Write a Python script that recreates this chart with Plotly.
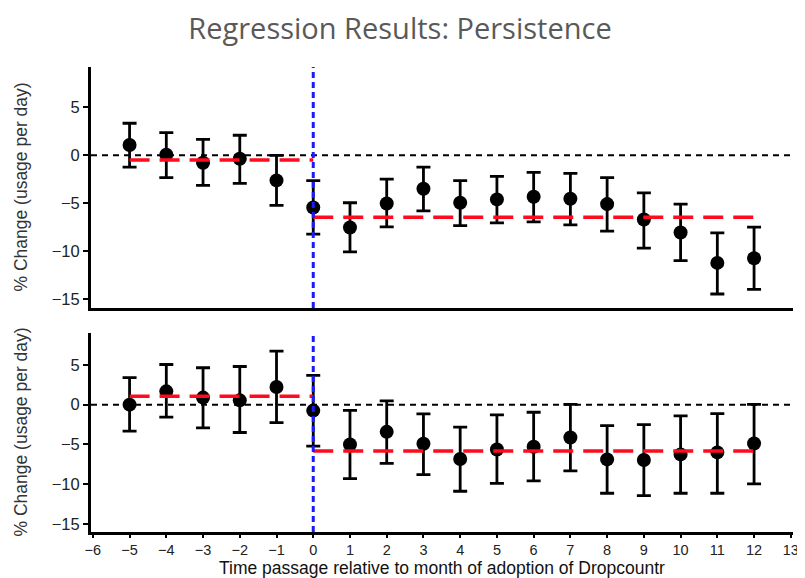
import plotly.graph_objects as go
from plotly.subplots import make_subplots

months = [-5, -4, -3, -2, -1, 0, 1, 2, 3, 4, 5, 6, 7, 8, 9, 10, 11, 12]

# Top panel
top_est = [1.08, 0.07, -0.77, -0.35, -2.61, -5.43, -7.52, -5.01, -3.48, -4.94, -4.59, -4.31, -4.52, -5.08, -6.68, -8.04, -11.20, -10.72]
top_hi = [3.34, 2.37, 1.67, 2.09, 0.00, -2.64, -4.94, -2.47, -1.22, -2.64, -2.19, -1.77, -1.88, -2.33, -3.90, -5.08, -8.07, -7.48]
top_lo = [-1.22, -2.33, -3.13, -2.92, -5.22, -8.21, -10.06, -7.45, -5.78, -7.31, -7.03, -6.92, -7.24, -7.90, -9.67, -10.96, -14.44, -13.95]

# Bottom panel
bot_est = [0.00, 1.67, 0.88, 0.54, 2.21, -0.75, -5.00, -3.42, -4.92, -6.83, -5.63, -5.29, -4.13, -6.88, -6.96, -6.25, -6.00, -4.88]
bot_hi = [3.38, 5.04, 4.63, 4.79, 6.71, 3.67, -0.71, 0.46, -1.17, -2.83, -1.29, -0.96, 0.04, -2.63, -2.50, -1.42, -1.13, 0.04]
bot_lo = [-3.33, -1.58, -2.92, -3.50, -2.25, -5.21, -9.29, -7.38, -8.79, -10.88, -9.88, -9.58, -8.33, -11.13, -11.42, -11.13, -11.13, -9.96]

# Period averages (red dashed lines)
pre_period = [-5, 0]
post_period = [0, 12]
top_pre_mean = -0.49
top_post_mean = -6.44
bot_pre_mean = 1.04
bot_post_mean = -5.83

adoption_month = 0

x_ticks = list(range(-6, 14))
y_ticks = [5, 0, -5, -10, -15]

TITLE = "Regression Results: Persistence"
X_TITLE = "Time passage relative to month of adoption of Dropcountr"
Y_TITLE = "% Change (usage per day)"

# page has an 8px body margin, so the figure is offset by 8px
FIG_W, FIG_H = 797, 570
M_L, M_R, M_T, M_B = 83, 12, 59, 46
plot_w = FIG_W - M_L - M_R
plot_h = FIG_H - M_T - M_B

fig = make_subplots(rows=2, cols=1, shared_xaxes=False, vertical_spacing=0.05)

panels = [
    (1, top_est, top_hi, top_lo, top_pre_mean, top_post_mean),
    (2, bot_est, bot_hi, bot_lo, bot_pre_mean, bot_post_mean),
]

for row, est, hi, lo, pre_m, post_m in panels:
    fig.add_trace(go.Scatter(
        x=months, y=est, mode="markers",
        marker=dict(color="black", size=14),
        error_y=dict(type="data", symmetric=False,
                     array=[h - e for h, e in zip(hi, est)],
                     arrayminus=[e - l for e, l in zip(est, lo)],
                     color="black", thickness=2.8, width=7),
        showlegend=False, hoverinfo="x+y"), row=row, col=1)
    fig.add_trace(go.Scatter(
        x=pre_period, y=[pre_m, pre_m], mode="lines",
        line=dict(color="#ff0a1e", width=3.5, dash="20px,10px"),
        showlegend=False), row=row, col=1)
    fig.add_trace(go.Scatter(
        x=post_period, y=[post_m, post_m], mode="lines",
        line=dict(color="#ff0a1e", width=3.5, dash="20px,10px"),
        showlegend=False), row=row, col=1)

for i, (xr, yr) in enumerate([("x", "y"), ("x2", "y2")]):
    fig.add_shape(type="line", xref=f"{xr} domain", yref=yr, x0=0, x1=1, y0=0, y1=0,
                  line=dict(color="black", width=2, dash="6px,5px"), layer="below")
    fig.add_shape(type="line", xref=xr, yref=f"{yr} domain", x0=adoption_month, x1=adoption_month,
                  y0=0, y1=1, line=dict(color="#1a1aff", width=3, dash="6px,4px"), layer="above")

axis_font = dict(family="Liberation Sans, Arial, sans-serif", size=14.5, color="#222222")

fig.update_xaxes(range=[-6.05, 13.06], showgrid=False, zeroline=False, automargin=False,
                 showline=True, linecolor="black", linewidth=3)
fig.update_xaxes(showticklabels=False, ticks="", row=1, col=1)
fig.update_xaxes(tickmode="array", tickvals=x_ticks, ticktext=[str(v).replace("-", "\u2212") for v in x_ticks],
                 ticks="outside", ticklen=3, tickwidth=1.5, tickcolor="black",
                 tickfont=axis_font, row=2, col=1)

fig.update_yaxes(showgrid=False, zeroline=False, showline=True, linecolor="black", linewidth=3,
                 automargin=False, tickmode="array", tickvals=y_ticks,
                 ticktext=[str(v).replace("-", "\u2212") for v in y_ticks],
                 ticks="outside", ticklen=5, tickwidth=1.5, tickcolor="black",
                 tickfont=dict(axis_font, size=16.5))
fig.update_yaxes(range=[-15.9, 9.2], domain=[0.4817, 1.0], row=1, col=1)
fig.update_yaxes(range=[-16.0, 9.0], domain=[0.0, 0.428], row=2, col=1)

ytitle_font = dict(family="Liberation Sans, Arial, sans-serif", size=17.5, color="#333333")
for dom in ([0.4817, 1.0], [0.0, 0.428]):
    fig.add_annotation(text=Y_TITLE, xref="paper", yref="paper",
                       x=(13 - M_L) / plot_w, y=(dom[0] + dom[1]) / 2,
                       xanchor="center", yanchor="middle", textangle=-90,
                       showarrow=False, font=ytitle_font)
fig.add_annotation(text=X_TITLE, xref="paper", yref="paper",
                   x=0.5, y=-(559.5 - (FIG_H - M_B)) / plot_h, xanchor="center", yanchor="middle",
                   showarrow=False,
                   font=dict(family="Liberation Sans, Arial, sans-serif", size=17.5, color="#111111"))

fig.update_layout(
    width=FIG_W, height=FIG_H,
    margin=dict(l=M_L, r=M_R, t=M_T, b=M_B),
    paper_bgcolor="white", plot_bgcolor="white",
    title=dict(text=TITLE, x=(400 - 8) / FIG_W, xanchor="center",
               y=1 - 21 / FIG_H, yanchor="middle",
               font=dict(family="Open Sans, Lato, sans-serif", size=29, color="#595959")),
)

fig.write_html("out.html")
